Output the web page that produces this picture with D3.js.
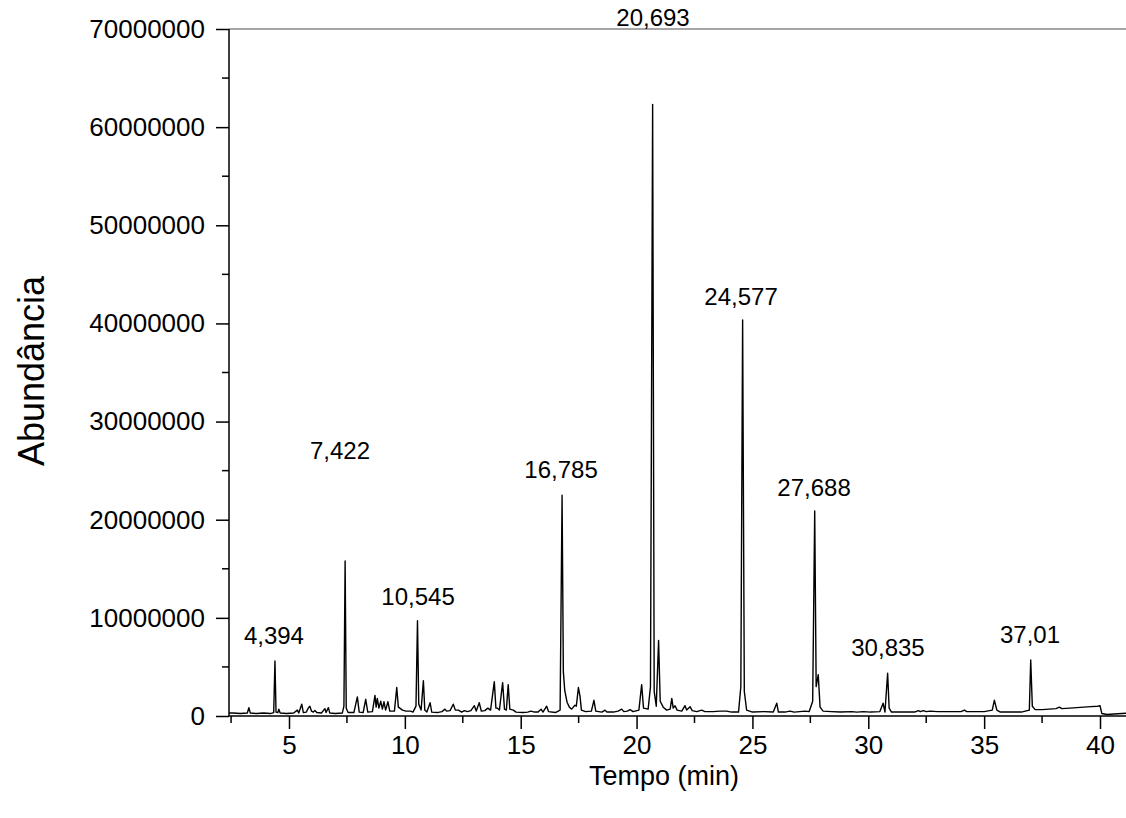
<!DOCTYPE html>
<html>
<head>
<meta charset="utf-8">
<script src="https://cdn.jsdelivr.net/npm/d3@7"></script>
<style>
  body { margin: 0; background: #fff; }
  text { font-family: "Liberation Sans", Arial, sans-serif; fill: #000; }
</style>
</head>
<body>
<div id="chart"></div>
<script>
// chromatogram values (tempo in min, abundance in millions)
let tempo = [
  2.41, 2.6, 2.9, 3.2, 3.27, 3.33, 3.6, 3.9, 4.2, 4.34, 4.394, 4.44, 4.52, 4.56, 4.62, 4.9,
  5.2, 5.36, 5.42, 5.55, 5.62, 5.75, 5.83, 5.9, 5.97, 6.05, 6.12, 6.2, 6.4, 6.55, 6.6, 6.7, 6.76,
  7.0, 7.3, 7.37, 7.422, 7.47, 7.55, 7.8, 7.95, 8.03, 8.2, 8.31, 8.4, 8.6, 8.71, 8.76, 8.81, 8.88,
  8.96, 9.03, 9.1, 9.17, 9.27, 9.35, 9.55, 9.65, 9.72, 9.78, 9.9, 10.05, 10.25, 10.35, 10.48,
  10.545, 10.6, 10.7, 10.8, 10.86, 10.95, 11.09, 11.16, 11.4, 11.6, 11.73, 11.8, 11.95, 12.09,
  12.18, 12.31, 12.45, 12.57, 12.7, 12.85, 13.0, 13.08, 13.21, 13.3, 13.45, 13.58, 13.7, 13.86,
  13.93, 14.0, 14.08, 14.22, 14.3, 14.38, 14.46, 14.53, 14.68, 14.8, 15.1, 15.3, 15.44, 15.6,
  15.75, 15.88, 15.96, 16.12, 16.2, 16.5, 16.7, 16.785, 16.84, 16.9, 17.0, 17.1, 17.2, 17.27,
  17.34, 17.4, 17.49, 17.56, 17.62, 17.8, 18.05, 18.16, 18.24, 18.5, 18.64, 18.72, 19.0, 19.2,
  19.36, 19.45, 19.6, 19.72, 19.85, 20.1, 20.22, 20.3, 20.5, 20.6, 20.693, 20.76, 20.85, 20.95,
  21.02, 21.15, 21.3, 21.45, 21.52, 21.58, 21.66, 21.75, 21.95, 22.09, 22.16, 22.31, 22.4, 22.6,
  22.81, 22.95, 23.3, 23.6, 23.89, 24.1, 24.4, 24.5, 24.577, 24.65, 24.75, 25.0, 25.5, 25.9,
  26.05, 26.12, 26.4, 26.62, 26.8, 27.27, 27.45, 27.6, 27.688, 27.75, 27.84, 27.92, 28.05, 28.4,
  28.8, 29.29, 29.5, 29.79, 30.1, 30.5, 30.64, 30.72, 30.835, 30.9, 31.0, 31.5, 32.0, 32.16,
  32.25, 32.38, 32.5, 32.67, 33.0, 33.5, 34.0, 34.15, 34.25, 35.0, 35.35, 35.44, 35.55, 35.7,
  36.2, 36.6, 36.95, 37.01, 37.08, 37.2, 37.5, 37.8, 38.1, 38.25, 38.35, 38.7, 39.0, 39.3, 39.6,
  39.9, 40.0, 40.08, 40.3, 40.6, 41.2
];
let abundanciaMi = [
  0.3, 0.3, 0.25, 0.3, 0.85, 0.3, 0.25, 0.3, 0.25, 0.35, 5.6, 0.4, 0.35, 0.7, 0.3, 0.25,
  0.3, 0.6, 0.3, 1.2, 0.35, 0.4, 0.8, 1.0, 0.5, 0.4, 0.55, 0.35, 0.3, 0.75, 0.35, 0.85, 0.3,
  0.25, 0.3, 1.0, 15.8, 0.8, 0.35, 0.35, 1.95, 0.4, 0.35, 1.7, 0.4, 0.45, 2.1, 0.9, 1.8, 0.8,
  1.5, 0.7, 1.45, 0.6, 1.45, 0.5, 0.5, 2.9, 0.9, 0.8, 0.6, 0.5, 0.5, 0.4, 1.0,
  9.7, 1.2, 0.6, 3.6, 0.6, 0.4, 1.35, 0.4, 0.35, 0.45, 0.7, 0.5, 0.55, 1.2,
  0.6, 0.6, 0.4, 0.55, 0.45, 0.55, 1.05, 0.5, 1.35, 0.5, 0.55, 0.8, 0.6, 3.5,
  0.8, 0.8, 0.6, 3.4, 0.7, 0.6, 3.2, 0.7, 0.6, 0.4, 0.35, 0.4, 0.5, 0.4,
  0.4, 0.7, 0.4, 1.0, 0.45, 0.35, 0.6, 22.5, 4.5, 2.6, 1.4, 0.9, 0.7, 0.9,
  1.1, 1.0, 2.9, 2.0, 0.6, 0.45, 0.5, 1.6, 0.5, 0.4, 0.6, 0.4, 0.4, 0.5,
  0.7, 0.45, 0.5, 0.65, 0.45, 0.6, 3.2, 0.8, 0.7, 3.0, 62.3, 2.5, 1.0, 7.7,
  1.5, 0.9, 0.6, 0.7, 1.8, 0.8, 1.05, 0.6, 0.5, 1.05, 0.6, 0.95, 0.55, 0.45,
  0.6, 0.45, 0.45, 0.5, 0.5, 0.4, 0.4, 3.0, 40.35, 2.5, 0.6, 0.4, 0.45, 0.4,
  1.3, 0.4, 0.4, 0.5, 0.4, 0.5, 0.45, 1.5, 20.9, 3.0, 4.2, 0.9, 0.5, 0.45,
  0.4, 0.45, 0.4, 0.45, 0.4, 0.45, 1.3, 0.4, 4.35, 0.8, 0.4, 0.4, 0.4, 0.55,
  0.45, 0.55, 0.45, 0.5, 0.45, 0.45, 0.45, 0.6, 0.45, 0.45, 0.6, 1.6, 0.6, 0.4,
  0.4, 0.4, 0.6, 5.7, 1.0, 0.65, 0.65, 0.7, 0.75, 0.9, 0.75, 0.8, 0.85, 0.9, 0.95,
  1.0, 1.05, 0.25, 0.15, 0.2, 0.3
];

// peak annotations
let picoTexto = ["4,394", "7,422", "10,545", "16,785", "20,693", "24,577", "27,688", "30,835", "37,01"];
let picoTempo = [4.35, 7.2, 10.57, 16.74, 20.71, 24.51, 27.66, 30.85, 36.98];
let picoAltura = [7.3, 26.2, 11.3, 24.25, 70.3, 41.9, 22.4, 6.1, 7.47];

let yTicks = [0, 10000000, 20000000, 30000000, 40000000, 50000000, 60000000, 70000000];
let xTicks = [5, 10, 15, 20, 25, 30, 35, 40];

let svgwidth = 1126;
let svgheight = 818;

let margin = { top: 29, right: 0, bottom: 102, left: 229 };
let height = svgheight - margin.top - margin.bottom;

let svg = d3.select("#chart")
  .append("svg")
  .attr("width", svgwidth)
  .attr("height", svgheight);

let xScale = d3.scaleLinear()
  .domain([5, 40])
  .range([289, 1100]);

let yScale = d3.scaleLinear()
  .domain([0, 70000000])
  .range([margin.top + height, margin.top]);

let x0 = margin.left;
let y0 = yScale(0);

// top frame line (gray)
svg.append("line")
  .attr("x1", x0).attr("x2", svgwidth)
  .attr("y1", yScale(70000000)).attr("y2", yScale(70000000))
  .attr("stroke", "#a6a6a6")
  .attr("stroke-width", 2);

// minor ticks
let xMinor = d3.range(2.5, 41.5, 2.5).filter(d => d % 5 !== 0);
svg.append("g").selectAll("line")
  .data(xMinor)
  .enter()
  .append("line")
  .attr("x1", d => xScale(d)).attr("x2", d => xScale(d))
  .attr("y1", y0).attr("y2", y0 + 7)
  .attr("stroke", "#000").attr("stroke-width", 1.5);

let yMinor = d3.range(5000000, 70000000, 10000000);
svg.append("g").selectAll("line")
  .data(yMinor)
  .enter()
  .append("line")
  .attr("x1", x0 - 7).attr("x2", x0)
  .attr("y1", d => yScale(d)).attr("y2", d => yScale(d))
  .attr("stroke", "#000").attr("stroke-width", 1.5);

// axes
let bottomAxis = d3.axisBottom(xScale)
  .tickValues(xTicks)
  .tickSize(13)
  .tickPadding(7)
  .tickFormat(d3.format("d"));

let leftAxis = d3.axisLeft(yScale)
  .tickValues(yTicks)
  .tickSize(13)
  .tickPadding(11)
  .tickFormat(d3.format("d"));

let xAxis = svg.append("g")
  .attr("transform", `translate(0, ${y0})`)
  .call(bottomAxis);
xAxis.select(".domain").remove();
xAxis.append("line")
  .attr("x1", x0).attr("x2", svgwidth)
  .attr("stroke", "#000").attr("stroke-width", 1.5);

let yAxis = svg.append("g")
  .attr("transform", `translate(${x0}, 0)`)
  .call(leftAxis);
yAxis.select(".domain").remove();
yAxis.append("line")
  .attr("y1", yScale(70000000)).attr("y2", y0)
  .attr("stroke", "#000").attr("stroke-width", 1.5);

svg.selectAll(".tick line").attr("stroke", "#000").attr("stroke-width", 1.5);
svg.selectAll(".tick text")
  .style("font-size", "26px")
  .style("font-family", "'Liberation Sans', Arial, sans-serif");

// chromatogram line
let pontos = tempo.map((t, i) => [t, abundanciaMi[i] * 1000000]);

let linha = d3.line()
  .x(d => xScale(d[0]))
  .y(d => yScale(d[1]));

svg.append("path")
  .datum(pontos)
  .attr("d", linha)
  .attr("fill", "none")
  .attr("stroke", "#000")
  .attr("stroke-width", 1.4)
  .attr("stroke-linejoin", "round");

// peak labels
svg.append("g").selectAll("text")
  .data(picoTexto)
  .enter()
  .append("text")
  .attr("x", (d, i) => xScale(picoTempo[i]))
  .attr("y", (d, i) => yScale(picoAltura[i] * 1000000))
  .attr("text-anchor", "middle")
  .style("font-size", "24px")
  .text(d => d);

// axis titles
svg.append("text")
  .attr("x", 664)
  .attr("y", 785)
  .attr("text-anchor", "middle")
  .style("font-size", "27px")
  .text("Tempo (min)");

svg.append("text")
  .attr("transform", "rotate(-90)")
  .attr("x", -371)
  .attr("y", 44)
  .attr("text-anchor", "middle")
  .style("font-size", "36px")
  .text("Abundância");
</script>
</body>
</html>
